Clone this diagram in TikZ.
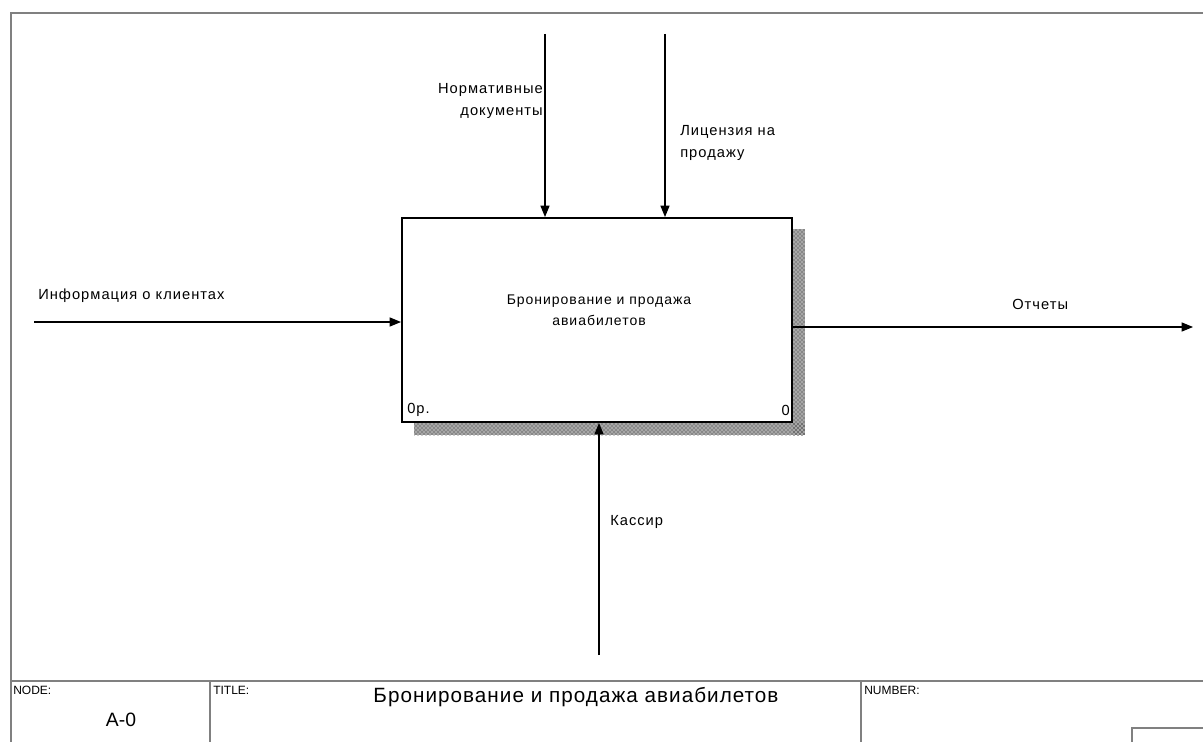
\documentclass[tikz,border=0pt]{standalone}
\usepackage{fontspec}
\setmainfont{Liberation Sans}
\newfontfamily\lblfont[LetterSpace=7]{Liberation Sans}
\newfontfamily\headfont[LetterSpace=5]{Liberation Sans}
\usepackage{tikz}
\usetikzlibrary{arrows.meta,calc,patterns}

\tikzset{
  flow/.style={line width=0.8pt, -{Triangle[length=8.5pt,width=6.8pt]}},
  lbl/.style={font=\lblfont\fontsize{11}{16.5}\selectfont, inner sep=0pt},
  tbl/.style={font=\fontsize{9}{11}\selectfont, inner sep=0pt},
  frame/.style={draw=black!50, line width=1.1pt},
  func/.style={draw, line width=1.5pt, minimum width=292.5pt, minimum height=153pt, inner sep=0pt},
}

\begin{document}
\begin{tikzpicture}[x=0.75pt, y=-0.75pt]
		\useasboundingbox (0,0) rectangle (1203,742);
		% sheet frame
		\draw[frame] (11,742) -- (11,13) -- (1203,13);
		\draw[frame] (11,681) -- (1203,681);
		\draw[frame] (210,681) -- (210,742);
		\draw[frame] (861,681) -- (861,742);
		\draw[frame] (1132,742) -- (1132,728) -- (1203,728);

		% shadow of the function box
		\fill[black!35] (793,229) rectangle (805,435);
		\fill[black!35] (414,423) rectangle (805,435);
		\fill[pattern=crosshatch dots, pattern color=black!85] (793,229) rectangle (805,435);
		\fill[pattern=crosshatch dots, pattern color=black!85] (414,423) rectangle (805,435);

		\node[func, fill=white] (box) at (597,320) {};
		\node[lbl, font=\lblfont\fontsize{10.5}{15.75}\selectfont, align=center] (boxText) at (599,310) {Бронирование и продажа\\авиабилетов};
		\node[lbl, anchor=west] (boxCost) at (407,410) {0р.};
		\node[lbl, anchor=east] (boxNum) at (790,410) {0};

		% control
		\coordinate (ctrlNorm) at (545,34);
		\coordinate (ctrlLic) at (665,34);
		\draw[flow] (ctrlNorm) -- (ctrlNorm |- box.north);
		\draw[flow] (ctrlLic) -- (ctrlLic |- box.north);
		\node[lbl, anchor=east, align=right] (normText) at (543,101) {Нормативные\\документы};
		\node[lbl, anchor=west, align=left] (licText) at (680,143) {Лицензия на\\продажу};

		% input and output
		\coordinate (inInfo) at (34,322);
		\coordinate (outRep) at (1193,327);
		\draw[flow] (inInfo) -- (inInfo -| box.west);
		\draw[flow] (outRep -| box.east) -- (outRep);
		\node[lbl, anchor=west] (infoText) at (38,296) {Информация о клиентах};
		\node[lbl, anchor=west] (repText) at (1012,304) {Отчеты};

		% mechanism
		\coordinate (mechCash) at (599,655);
		\draw[flow] (mechCash) -- (mechCash |- box.south);
		\node[lbl, anchor=west] (cashText) at (610,522) {Кассир};

		% title block
		\node[tbl, anchor=west] (nodeHead) at (13,690) {NODE:};
		\node[font=\fontsize{14.5}{16}\selectfont, inner sep=0pt] (nodeVal) at (121,720) {A-0};
		\node[tbl, anchor=west] (titleHead) at (213,690) {TITLE:};
		\node[font=\headfont\fontsize{15.5}{18}\selectfont, inner sep=0pt] (titleVal) at (576,697) {Бронирование и продажа авиабилетов};
		\node[tbl, anchor=west] (numHead) at (864,690) {NUMBER:};
\end{tikzpicture}
\end{document}
